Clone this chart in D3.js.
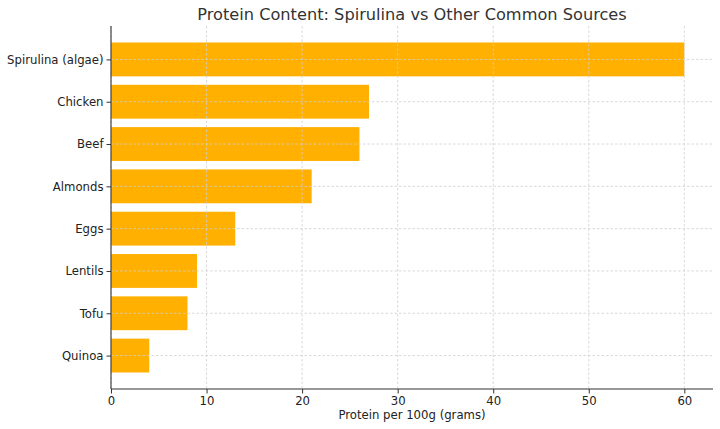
<!DOCTYPE html>
<html>
<head>
<meta charset="utf-8">
<script src="https://cdn.jsdelivr.net/npm/d3@7"></script>
<style>
  html, body { margin: 0; padding: 0; background: #fff; }
  svg { display: block; font-family: "DejaVu Sans", sans-serif; }
</style>
</head>
<body>
<svg id="chart" width="720" height="429"></svg>
<script>
// Data (grams of protein per 100 g)
var foods = ["Spirulina (algae)", "Chicken", "Beef", "Almonds", "Eggs", "Lentils", "Tofu", "Quinoa"];
var protein = [60, 27, 26, 21, 13, 9, 8, 4];
var xTicks = [0, 10, 20, 30, 40, 50, 60];

var W = 720, H = 429;
var m = { left: 111, right: 7, top: 26, bottom: 40 };
var svg = d3.select("#chart");

var x = d3.scaleLinear().domain([0, 63]).range([m.left, W - m.right]);
// matplotlib-like barh: index positions with 5% margins, first item on top
var y = d3.scaleLinear().domain([-0.79, 7.79]).range([m.top, H - m.bottom]);
var barH = y(0.4) - y(-0.4);

// bars
svg.append("g").selectAll("rect").data(foods).join("rect")
  .attr("x", x(0))
  .attr("y", function (d, i) { return y(i - 0.4); })
  .attr("width", function (d, i) { return x(protein[i]) - x(0); })
  .attr("height", barH)
  .attr("fill", "#FFB000");

// grid (drawn above bars, as in the reference)
var grid = svg.append("g").attr("stroke", "#cfcfcf").attr("stroke-width", 0.8)
  .attr("stroke-dasharray", "2.5,2");
grid.selectAll("line.v").data(xTicks).join("line").attr("class", "v")
  .attr("x1", function (d) { return x(d); }).attr("x2", function (d) { return x(d); })
  .attr("y1", m.top).attr("y2", H - m.bottom);
grid.selectAll("line.h").data(foods).join("line").attr("class", "h")
  .attr("x1", m.left).attr("x2", W - m.right)
  .attr("y1", function (d, i) { return y(i); }).attr("y2", function (d, i) { return y(i); });

// axes
var xAxis = svg.append("g").attr("transform", "translate(0," + (H - m.bottom) + ")")
  .call(d3.axisBottom(x).tickValues(xTicks).tickSize(4.5).tickPadding(3).tickFormat(d3.format("d")));
var yAxis = svg.append("g").attr("transform", "translate(" + m.left + ",0)")
  .call(d3.axisLeft(y).tickValues(d3.range(foods.length)).tickSize(4.5).tickPadding(3)
    .tickFormat(function (i) { return foods[i]; }));
[xAxis, yAxis].forEach(function (a) {
  a.select(".domain").attr("stroke", "#333").attr("stroke-width", 1.1)
    .attr("d", a === xAxis ? "M" + m.left + ",0H" + (W - m.right) : "M0," + m.top + "V" + (H - m.bottom));
  a.selectAll(".tick line").attr("stroke", "#333");
  a.selectAll(".tick text").attr("fill", "#222").style("font-size", "11.7px")
    .style("font-family", "DejaVu Sans, sans-serif");
});

// labels
svg.append("text").attr("x", (m.left + W - m.right) / 2).attr("y", 20)
  .attr("text-anchor", "middle").attr("fill", "#333").style("font-size", "16.2px")
  .text("Protein Content: Spirulina vs Other Common Sources");
svg.append("text").attr("x", (m.left + W - m.right) / 2).attr("y", 419)
  .attr("text-anchor", "middle").attr("fill", "#222").style("font-size", "11.7px")
  .text("Protein per 100g (grams)");
</script>
</body>
</html>
